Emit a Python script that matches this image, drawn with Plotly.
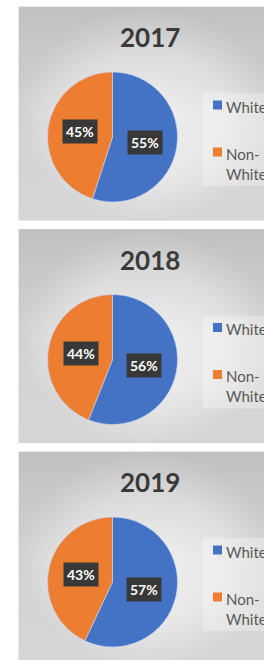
import math
import plotly.graph_objects as go

# ---- data ----
years = ["2017", "2018", "2019"]
categories = ["White", "Non-White"]
white_pct = [55, 56, 57]
nonwhite_pct = [45, 44, 43]
legend_text = ["White", "Non-<br>White"]
colors = ["#4472C4", "#ED7D31"]

W, H = 264, 660
panel_tops = [7, 229.5, 452]
PANEL_H = 213
PANEL_L, PANEL_R = 19, 275
PIE_CX, PIE_DY, PIE_R = 112.5, 130, 65
FONT = "Lato, 'Open Sans', sans-serif"

fig = go.Figure()
annotations = []
shapes = []

for i, yr in enumerate(years):
    top = panel_tops[i]
    bot = top + PANEL_H
    px = [PANEL_L, PANEL_R, PANEL_R, PANEL_L, PANEL_L]
    py = [top, top, bot, bot, top]
    # panel background: radial gradient + vertical darkening overlay
    fig.add_trace(go.Scatter(
        x=px, y=py, mode="lines", fill="toself",
        line=dict(color="#d4d4d4", width=1),
        fillgradient=dict(type="radial",
                          colorscale=[[0, "#f4f4f4"], [0.6, "#eaeaea"], [1, "#d6d6d6"]]),
        hoverinfo="skip", showlegend=False))
    fig.add_trace(go.Scatter(
        x=px, y=py, mode="lines", fill="toself",
        line=dict(color="rgba(0,0,0,0)", width=0),
        fillgradient=dict(type="vertical",
                          colorscale=[[0, "rgba(0,0,0,0)"], [0.5, "rgba(0,0,0,0.02)"],
                                      [1, "rgba(0,0,0,0.1)"]]),
        hoverinfo="skip", showlegend=False))

for i, yr in enumerate(years):
    top = panel_tops[i]
    cy = top + PIE_DY
    vals = [white_pct[i], nonwhite_pct[i]]
    fig.add_trace(go.Pie(
        labels=categories, values=vals, sort=False, direction="clockwise", rotation=0,
        marker=dict(colors=colors, line=dict(color="rgba(200,215,245,0.6)", width=1)),
        textinfo="none", hoverinfo="label+percent", showlegend=False,
        domain=dict(x=[(PIE_CX - PIE_R) / W, (PIE_CX + PIE_R) / W],
                    y=[1 - (cy + PIE_R) / H, 1 - (cy - PIE_R) / H])))
    # data labels
    total = sum(vals)
    start = 0.0
    for v in vals:
        mid = (start + v / 2) / total * 2 * math.pi
        start += v
        lx = PIE_CX + 0.5 * PIE_R * math.sin(mid)
        ly = cy - 0.5 * PIE_R * math.cos(mid)
        annotations.append(dict(
            x=lx, y=ly, xref="x", yref="y", text=f"<b>{v}%</b>", showarrow=False,
            font=dict(family=FONT, size=14, color="white"),
            bgcolor="#383838", borderpad=3, xanchor="center", yanchor="middle"))
    # title
    annotations.append(dict(
        x=150, y=top + 30, xref="x", yref="y", text=f"<b>{yr}</b>", showarrow=False,
        font=dict(family=FONT, size=26, color="#3a3a3a"), xanchor="center", yanchor="middle"))
    # legend box
    shapes.append(dict(type="rect", xref="x", yref="y", x0=203, x1=270,
                       y0=top + 86, y1=top + 179, layer="above",
                       fillcolor="rgba(255,255,255,0.3)", line=dict(width=0)))
    rows = [top + 98, top + 145]
    for k, lab in enumerate(legend_text):
        ry = rows[k]
        shapes.append(dict(type="rect", xref="x", yref="y", x0=213, x1=222,
                           y0=ry - 4.5, y1=ry + 4.5, layer="above",
                           fillcolor=colors[k], line=dict(width=0)))
        annotations.append(dict(
            x=224, y=ry - 9.5, xref="x", yref="y", text=lab, showarrow=False,
            font=dict(family=FONT, size=15, color="#595959"),
            xanchor="left", yanchor="top", align="left"))

fig.update_layout(
    width=W, height=H, margin=dict(l=0, r=0, t=0, b=0),
    paper_bgcolor="white", plot_bgcolor="white",
    xaxis=dict(range=[0, W], visible=False, fixedrange=True, domain=[0, 1]),
    yaxis=dict(range=[H, 0], visible=False, fixedrange=True, domain=[0, 1]),
    annotations=annotations, shapes=shapes, showlegend=False)

fig.write_html("out.html", config={"displayModeBar": False},
               post_script="document.body.style.margin='0';document.body.style.overflow='hidden';")
